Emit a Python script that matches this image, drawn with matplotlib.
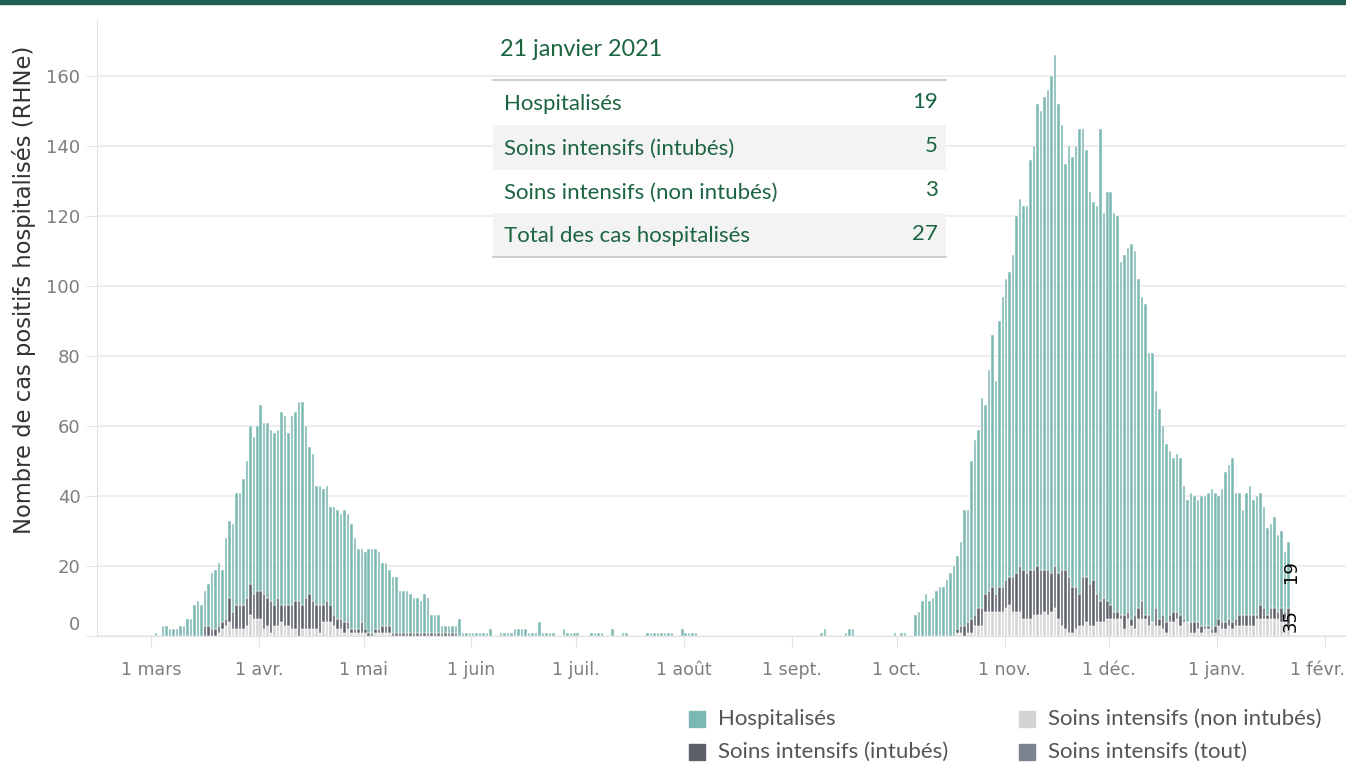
#!/usr/bin/env python3
import matplotlib
import matplotlib.pyplot as plt
import matplotlib.dates as mdates
import matplotlib.transforms as mtransforms
from matplotlib.patches import Rectangle
import pandas as pd

matplotlib.rcParams["figure.figsize"] = [13.46, 7.65]
matplotlib.rcParams["figure.dpi"] = 100
matplotlib.rcParams["font.family"] = ["Lato", "DejaVu Sans"]

# hauteur totale de chaque barre journaliere
total_vague1 = [  # 2 mars -> 28 mai 2020
    1, 0, 3, 3, 2, 2, 2, 3, 3, 5,
    5, 9, 10, 9, 13, 15, 18, 19, 21, 19,
    28, 33, 32, 41, 41, 45, 50, 60, 57, 60,
    66, 61, 61, 59, 58, 59, 64, 63, 58, 63,
    64, 67, 67, 60, 54, 52, 43, 43, 42, 43,
    37, 37, 36, 35, 36, 35, 32, 28, 25, 25,
    24, 25, 25, 25, 24, 21, 21, 19, 17, 17,
    13, 13, 13, 12, 11, 11, 10, 12, 11, 6,
    6, 6, 3, 3, 3, 3, 3, 5,
]
total_ete = [  # 29 mai -> 5 oct. 2020
    1, 1, 1, 1, 1, 1, 1, 1, 2, 0,
    0, 1, 1, 1, 1, 2, 2, 2, 2, 1,
    1, 1, 4, 1, 1, 1, 1, 0, 0, 2,
    1, 1, 1, 1, 0, 0, 0, 1, 1, 1,
    1, 0, 0, 2, 0, 0, 1, 1, 0, 0,
    0, 0, 0, 1, 1, 1, 1, 1, 1, 1,
    1, 0, 0, 2, 1, 1, 1, 1, 0, 0,
    0, 0, 0, 0, 0, 0, 0, 0, 0, 0,
    0, 0, 0, 0, 0, 0, 0, 0, 0, 0,
    0, 0, 0, 0, 0, 0, 0, 0, 0, 0,
    0, 0, 0, 1, 2, 0, 0, 0, 0, 0,
    1, 2, 2, 0, 0, 0, 0, 0, 0, 0,
    0, 0, 0, 0, 1, 0, 1, 1, 0, 0,
]
total_vague2 = [  # 6 oct. 2020 -> 21 janv. 2021
    6, 7, 10, 12, 10, 11, 13, 14, 14, 16,
    18, 20, 23, 27, 36, 36, 50, 56, 59, 68,
    66, 76, 86, 73, 90, 97, 102, 104, 109, 120,
    125, 123, 123, 136, 140, 152, 150, 154, 156, 160,
    166, 152, 146, 135, 140, 137, 140, 145, 145, 139,
    127, 124, 123, 145, 121, 127, 127, 121, 120, 107,
    109, 111, 112, 110, 102, 97, 95, 81, 81, 70,
    65, 60, 55, 53, 51, 52, 51, 43, 39, 41,
    40, 39, 40, 40, 41, 42, 41, 40, 42, 47,
    49, 51, 41, 41, 36, 41, 43, 39, 40, 41,
    37, 31, 32, 34, 29, 30, 24, 27,
]

# soins intensifs (tout) et part non intubee
si_vague1 = [  # 16 mars -> 27 mai 2020
    3, 3, 2, 2, 3, 4, 5, 11, 7, 9,
    9, 9, 11, 15, 12, 13, 13, 12, 11, 10,
    9, 11, 9, 9, 9, 9, 10, 10, 9, 11,
    12, 10, 9, 9, 9, 10, 9, 6, 5, 5,
    4, 4, 2, 2, 2, 4, 2, 1, 1, 2,
    2, 3, 3, 3, 1, 1, 1, 1, 1, 1,
    1, 1, 1, 1, 1, 1, 1, 1, 1, 1,
    1, 1, 1,
]
si_non_intubes_vague1 = [
    0, 0, 0, 0, 1, 2, 3, 4, 2, 2,
    2, 2, 3, 6, 5, 5, 5, 2, 3, 1,
    3, 3, 4, 3, 3, 2, 2, 0, 2, 2,
    2, 2, 2, 1, 4, 4, 4, 3, 2, 2,
    1, 2, 1, 1, 1, 1, 1, 0, 0, 1,
    1, 1, 1, 1, 0, 0, 0, 0, 0, 0,
    0, 0, 0, 0, 0, 0, 0, 0, 0, 0,
    0, 0, 0,
]
si_vague2 = [  # 18 oct. 2020 -> 21 janv. 2021
    2, 3, 3, 4, 5, 6, 8, 8, 12, 13,
    14, 12, 14, 14, 16, 17, 17, 18, 20, 19,
    18, 19, 19, 20, 19, 19, 19, 18, 20, 18,
    19, 19, 17, 14, 14, 12, 17, 17, 15, 16,
    12, 10, 11, 10, 9, 7, 7, 6, 6, 7,
    5, 6, 8, 10, 6, 6, 4, 8, 5, 6,
    4, 6, 7, 7, 6, 5, 4, 4, 4, 4,
    3, 3, 3, 2, 3, 5, 4, 4, 5, 4,
    5, 6, 6, 6, 6, 6, 6, 9, 8, 6,
    8, 8, 7, 8, 7, 8,
]
si_non_intubes_vague2 = [
    1, 1, 0, 1, 1, 3, 3, 3, 7, 7,
    7, 7, 7, 7, 8, 9, 7, 7, 7, 5,
    5, 5, 6, 6, 6, 7, 6, 7, 8, 5,
    3, 2, 1, 1, 2, 3, 3, 4, 3, 3,
    4, 4, 4, 5, 5, 5, 5, 5, 2, 5,
    3, 2, 5, 5, 5, 3, 4, 3, 3, 2,
    1, 4, 4, 5, 3, 4, 4, 1, 1, 2,
    1, 2, 2, 1, 1, 3, 2, 2, 3, 2,
    3, 3, 3, 3, 3, 3, 5, 5, 5, 5,
    5, 5, 5, 4, 5, 3,
]

mois = pd.date_range("2020-03-01", "2021-02-01", freq="MS")
mois_labels = ["1 mars", "1 avr.", "1 mai", "1 juin", "1 juil.", "1 août",
               "1 sept.", "1 oct.", "1 nov.", "1 déc.", "1 janv.", "1 févr."]

tableau_labels = ["Hospitalisés", "Soins intensifs (intubés)",
                  "Soins intensifs (non intubés)", "Total des cas hospitalisés"]
tableau_valeurs = [19, 5, 3, 27]

C_HOSP = "#7ab8b1"
C_INT = "#5d6069"
C_NON = "#d4d4d4"
C_TOUT = "#7b8290"
VERT = "#1c6541"

W, H = 1346, 765


def serie(values, start):
    return pd.Series(values, index=pd.date_range(start, periods=len(values), freq="D"))


def fx(px):
    return px / W


def fy(py):
    return 1 - py / H


def main():
    jours = pd.date_range("2020-03-02", "2021-01-21", freq="D")
    total = pd.concat([serie(total_vague1, "2020-03-02"),
                       serie(total_ete, "2020-05-29"),
                       serie(total_vague2, "2020-10-06")]).reindex(jours, fill_value=0)
    si = pd.concat([serie(si_vague1, "2020-03-16"),
                    serie(si_vague2, "2020-10-18")]).reindex(jours, fill_value=0)
    non_int = pd.concat([serie(si_non_intubes_vague1, "2020-03-16"),
                         serie(si_non_intubes_vague2, "2020-10-18")]).reindex(jours, fill_value=0)
    intubes = si - non_int
    hosp = total - si

    fig = plt.figure()
    ax = fig.add_axes([fx(97), fy(636), 1 - fx(97), (636 - 20) / H])

    x = mdates.date2num(jours) + 0.5
    kw = dict(width=0.72, edgecolor="white", linewidth=0.35)
    ax.bar(x, non_int.values, color=C_NON, **kw)
    ax.bar(x, intubes.values, bottom=non_int.values, color=C_INT, **kw)
    ax.bar(x, hosp.values, bottom=si.values, color=C_HOSP, **kw)

    ax.set_ylim(0, 176)
    x0 = mdates.date2num(pd.Timestamp("2020-03-01"))
    x1 = mdates.date2num(pd.Timestamp("2021-02-01"))
    ppd = (1325 - 151) / (x1 - x0)
    ax.set_xlim(x0 - 54 / ppd, x1 + 21 / ppd)

    ax.set_axisbelow(True)
    ax.yaxis.grid(True, color="#ececec", linewidth=1.3)
    for s in ["top", "right"]:
        ax.spines[s].set_visible(False)
    for s in ["left", "bottom"]:
        ax.spines[s].set_color("#e2e2e2")

    ax.set_yticks(range(0, 161, 20))
    ax.set_yticklabels([str(v) for v in range(0, 161, 20)])
    ax.tick_params(axis="y", length=8, color="#e6e6e6", labelcolor="#7d7d7d",
                   labelsize=13, pad=4)
    zero = ax.get_yticklabels()[0]
    zero.set_transform(zero.get_transform() +
                       mtransforms.ScaledTranslation(0, 13 / 100, fig.dpi_scale_trans))

    ax.set_xticks(mdates.date2num(mois))
    ax.set_xticklabels(mois_labels)
    ax.tick_params(axis="x", length=8, color="#e2e2e2", labelcolor="#7d7d7d",
                   labelsize=12.5, pad=10)
    for lab in ax.get_xticklabels() + ax.get_yticklabels():
        lab.set_family(["DejaVu Sans"])
    last = ax.get_xticklabels()[-1]
    last.set_transform(last.get_transform() +
                       mtransforms.ScaledTranslation(-8 / 100, 0, fig.dpi_scale_trans))

    # etiquettes de la derniere barre
    xl = x[-1] + 0.6
    ax.text(xl, 18.5, "19", rotation=90, ha="center", va="center", fontsize=13,
            color="black", family=["DejaVu Sans"])
    ax.text(xl, 4.3, "35", rotation=90, ha="center", va="center", fontsize=13,
            color="black", family=["DejaVu Sans"])

    fig.text(fx(24), fy(290), "Nombre de cas positifs hospitalisés (RHNe)",
             rotation=90, ha="center", va="center", fontsize=16.3, color="#333333",
             family=["DejaVu Sans"])

    # bande du haut
    fig.add_artist(Rectangle((0, fy(4)), 1, 4 / H, transform=fig.transFigure,
                             color="#1f5e50", zorder=5))

    # tableau du jour
    fig.text(fx(500), fy(50), "21 janvier 2021", ha="left", va="center",
             fontsize=16.8, color=VERT)
    t_left, t_right = 493, 946
    rows = [(80, 125), (125, 170), (170, 213), (213, 257)]
    for i, (y0, y1) in enumerate(rows):
        face = "#f3f3f3" if i % 2 else "white"
        fig.add_artist(Rectangle((fx(t_left), fy(y1)), fx(t_right - t_left), (y1 - y0) / H,
                                 transform=fig.transFigure, facecolor=face,
                                 edgecolor="none", zorder=3))
        yc = (y0 + y1) / 2 + 1
        fig.text(fx(504), fy(yc), tableau_labels[i], ha="left", va="center",
                 fontsize=16, color=VERT, zorder=4)
        fig.text(fx(938), fy(yc - 2), str(tableau_valeurs[i]), ha="right", va="center",
                 fontsize=16, color=VERT, zorder=4)
    for yl in (80, 257):
        fig.add_artist(plt.Line2D([fx(t_left), fx(t_right)], [fy(yl), fy(yl)],
                                  transform=fig.transFigure, color="#c6c6c6",
                                  linewidth=1.2, zorder=4))

    # legende
    legende = [
        (689, 719, C_HOSP, "Hospitalisés"),
        (689, 752, C_INT, "Soins intensifs (intubés)"),
        (1019, 719, C_NON, "Soins intensifs (non intubés)"),
        (1019, 752, C_TOUT, "Soins intensifs (tout)"),
    ]
    for px, py, c, lab in legende:
        fig.add_artist(Rectangle((fx(px), fy(py + 8)), fx(16), 16 / H,
                                 transform=fig.transFigure, color=c))
        fig.text(fx(px + 29), fy(py), lab, ha="left", va="center",
                 fontsize=16, color="#555555")

    fig.savefig("out.png", dpi=100)


if __name__ == "__main__":
    main()
